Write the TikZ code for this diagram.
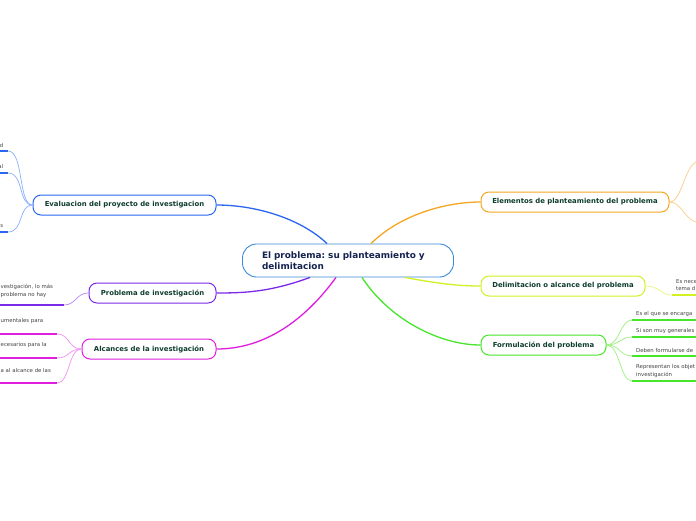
\documentclass[tikz,border=0pt]{standalone}
\usepackage{fontspec}
\setmainfont{DejaVu Sans}
\frenchspacing
\usetikzlibrary{calc}
\definecolor{cblue}{HTML}{2A66F0}
\definecolor{lblue}{HTML}{8AB0FF}
\definecolor{cpurp}{HTML}{7A2AE8}
\definecolor{lpurp}{HTML}{B98AF5}
\definecolor{cmag}{HTML}{E01EE0}
\definecolor{lmag}{HTML}{F290F2}
\definecolor{corg}{HTML}{F5A623}
\definecolor{lorg}{HTML}{FACD88}
\definecolor{cyel}{HTML}{D2F022}
\definecolor{lyel}{HTML}{E4F880}
\definecolor{cgrn}{HTML}{46E62A}
\definecolor{lgrn}{HTML}{9CF07E}
\definecolor{ccen}{HTML}{3A8AD6}
\definecolor{tcen}{HTML}{14234F}
\definecolor{tmain}{HTML}{0E3D2C}
\definecolor{tleaf}{HTML}{454545}
\tikzset{
 central/.style={draw=ccen, line width=0.9pt, fill=white, rounded corners=14pt, minimum width=211pt, minimum height=33pt, inner sep=0pt, text=tcen, text width=172pt, align=left, font=\fontsize{8.9}{11}\selectfont\bfseries},
 topic/.style={draw=#1, line width=1pt, fill=white, rounded corners=8pt, minimum height=20pt, inner sep=0pt, text=tmain, font=\fontsize{6.9}{8}\selectfont\bfseries},
 mainlink/.style={draw=#1, line width=1.3pt},
 leaflink/.style={draw=#1, line width=0.7pt},
 uline/.style={draw=#1, line width=2pt},
 leaf/.style={inner sep=0pt, text=tleaf, font=\fontsize{5.4}{7.8}\selectfont, align=left},
}
\begin{document}
\begin{tikzpicture}[x=1pt,y=-1pt]
\useasboundingbox (0,0) rectangle (696,520);
\fill[white] (0,0) rectangle (696,520);

% central
\node[central] (c) at (348,260.5) {El problema: su planteamiento y\\delimitacion};

% topics
\node[topic=cblue, minimum width=183pt] (ev) at (124.5,205) {Evaluacion del proyecto de investigacion};
\node[topic=cpurp, minimum width=127pt] (pr) at (152.5,293) {Problema de investigación};
\node[topic=cmag, minimum width=134pt] (al) at (149,349) {Alcances de la investigación};
\node[topic=corg, minimum width=188pt] (el) at (575,202) {Elementos de planteamiento del problema};
\node[topic=cyel, minimum width=164pt] (de) at (563,286) {Delimitacion o alcance del problema};
\node[topic=cgrn, minimum width=125pt] (fo) at (543.5,345) {Formulación del problema};

% main links
\draw[mainlink=cblue] ([xshift=-21pt]c.north) .. controls (300,218) and (255,205) .. (ev.east);
\draw[mainlink=corg] ([xshift=23pt]c.north) .. controls (400,215) and (445,202) .. (el.west);
\draw[mainlink=cpurp] ([xshift=-38pt]c.south) .. controls (270,292) and (245,293) .. (pr.east);
\draw[mainlink=cmag] ([xshift=-12pt]c.south) .. controls (305,320) and (265,349) .. (al.east);
\draw[mainlink=cgrn] ([xshift=14pt]c.south) .. controls (390,320) and (440,345) .. (fo.west);
\draw[mainlink=cyel] ([xshift=57pt]c.south) .. controls (440,284) and (460,286) .. (de.west);

% blue leaves
\coordinate (b1s) at (-5,151); \coordinate (b1e) at (8,151);
\coordinate (b2s) at (-5,173); \coordinate (b2e) at (8,173);
\coordinate (b3s) at (-5,232); \coordinate (b3e) at (8,232);
\draw[uline=cblue] (b1s) -- (b1e);
\draw[uline=cblue] (b2s) -- (b2e);
\draw[uline=cblue] (b3s) -- (b3e);
\draw[leaflink=lblue] (ev.west) .. controls (18,205) and (24,151) .. (b1e);
\draw[leaflink=lblue] (ev.west) .. controls (18,205) and (24,173) .. (b2e);
\draw[leaflink=lblue] (ev.west) .. controls (18,205) and (24,232) .. (b3e);
\node[leaf, anchor=base east] (b1t) at (3.5,147.5) {d};
\node[leaf, anchor=base east] (b2t) at (3.5,168) {al};
\node[leaf, anchor=base east] (b3t) at (3.5,227.5) {s};

% purple leaf
\coordinate (p1s) at (-5,305); \coordinate (p1e) at (64,305);
\draw[uline=cpurp] (p1s) -- (p1e);
\draw[leaflink=lpurp] (pr.west) .. controls (76,293) and (76,305) .. (p1e);
\node[leaf, anchor=west] (p1t) at (0.5,291) {vestigación, lo más\\ problema no hay};

% magenta leaves
\coordinate (m1s) at (-5,334); \coordinate (m1e) at (57,334);
\coordinate (m2s) at (-5,358); \coordinate (m2e) at (57,358);
\coordinate (m3s) at (-5,383); \coordinate (m3e) at (57,383);
\draw[uline=cmag] (m1s) -- (m1e);
\draw[uline=cmag] (m2s) -- (m2e);
\draw[uline=cmag] (m3s) -- (m3e);
\draw[leaflink=lmag] (al.west) .. controls (68,349) and (70,334) .. (m1e);
\draw[leaflink=lmag] (al.west) .. controls (68,349) and (70,358) .. (m2e);
\draw[leaflink=lmag] (al.west) .. controls (68,349) and (70,383) .. (m3e);
\node[leaf, anchor=west] (m1t) at (0.5,321) {umentales para};
\node[leaf, anchor=west] (m2t) at (0.5,345) {ecesarios para la};
\node[leaf, anchor=west] (m3t) at (0.5,370) {a al alcance de las};

% orange leaves (off page)
\coordinate (o1) at (702,160);
\coordinate (o2) at (702,223);
\draw[leaflink=lorg] (el.east) .. controls (683,202) and (684,160) .. (o1);
\draw[leaflink=lorg] (el.east) .. controls (683,202) and (684,223) .. (o2);

% yellow leaf
\coordinate (y1s) at (672,295); \coordinate (y1e) at (702,295);
\draw[uline=cyel] (y1s) -- (y1e);
\draw[leaflink=lyel] (de.east) .. controls (660,286) and (660,295) .. (y1s);
\node[leaf, anchor=west] (y1t) at (676,285) {Es nece\\tema d};

% green leaves
\coordinate (g1s) at (632,320); \coordinate (g1e) at (702,320);
\coordinate (g2s) at (632,337); \coordinate (g2e) at (702,337);
\coordinate (g3s) at (632,356); \coordinate (g3e) at (702,356);
\coordinate (g4s) at (632,381); \coordinate (g4e) at (702,381);
\draw[uline=cgrn] (g1s) -- (g1e);
\draw[uline=cgrn] (g2s) -- (g2e);
\draw[uline=cgrn] (g3s) -- (g3e);
\draw[uline=cgrn] (g4s) -- (g4e);
\draw[leaflink=lgrn] (fo.east) .. controls (620,345) and (620,320) .. (g1s);
\draw[leaflink=lgrn] (fo.east) .. controls (620,345) and (620,337) .. (g2s);
\draw[leaflink=lgrn] (fo.east) .. controls (620,345) and (620,356) .. (g3s);
\draw[leaflink=lgrn] (fo.east) .. controls (620,345) and (620,381) .. (g4s);
\node[leaf, anchor=west] (g1t) at (636,314) {Es el que se encarga};
\node[leaf, anchor=west] (g2t) at (636,331) {Si son muy generales};
\node[leaf, anchor=west] (g3t) at (636,350) {Deben formularse de};
\node[leaf, anchor=west] (g4t) at (636,371) {Representan los objet\\investigación};
\end{tikzpicture}
\end{document}
